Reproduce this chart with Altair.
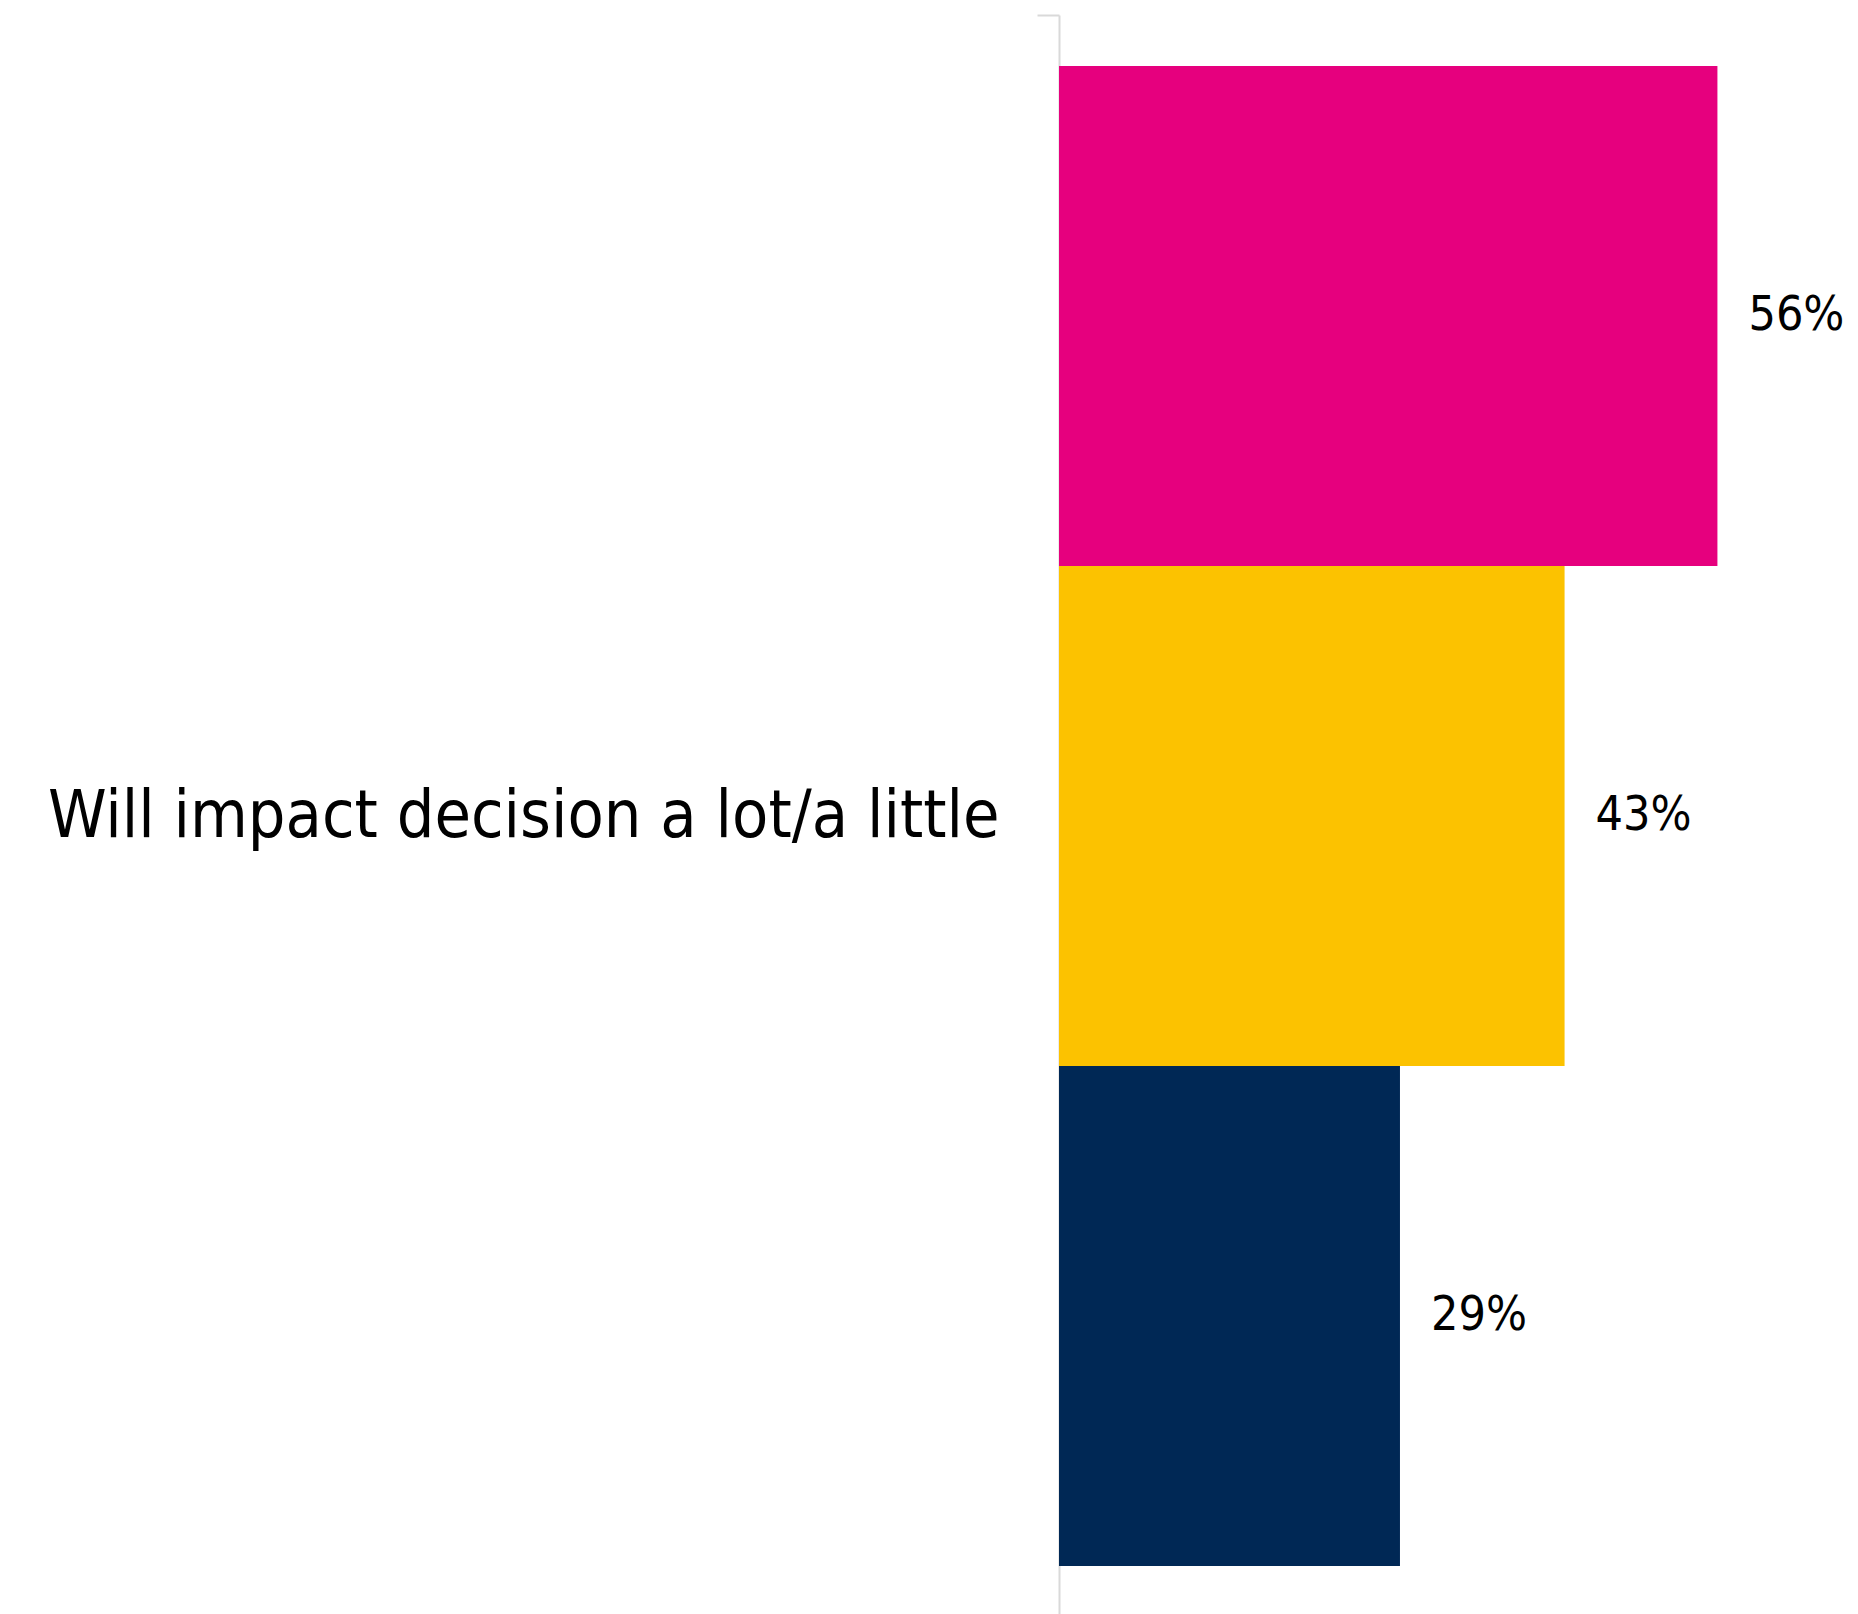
import altair as alt
import pandas as pd

category = "Will impact decision a lot/a little"
series = ["Series A", "Series B", "Series C"]
values = [56, 43, 29]
labels = ["56%", "43%", "29%"]
colors = ["#E6007E", "#FCC200", "#002855"]

df = pd.DataFrame({
    "category": [category] * len(series),
    "series": series,
    "value": values,
    "label": labels,
})

FONT = "Liberation Sans Narrow, DejaVu Sans Condensed, sans-serif"

y_enc = alt.Y(
    "category:N",
    title=None,
    scale=alt.Scale(paddingInner=0, paddingOuter=0),
    axis=alt.Axis(
        grid=False,
        domainColor="#d9d9d9",
        domainWidth=2,
        tickColor="#d9d9d9",
        tickWidth=2,
        tickSize=22,
        tickBand="extent",
        labelFont=FONT,
        labelFontSize=66,
        labelColor="#000000",
        labelPadding=38,
        labelLimit=1200,
    ),
)
yoff = alt.YOffset("series:N", sort=series,
                   scale=alt.Scale(paddingInner=0, paddingOuter=0.102))
x_enc = alt.X("value:Q", title=None,
              scale=alt.Scale(domain=[0, 66], nice=False),
              axis=None)

bars = alt.Chart(df).mark_bar(size=500).encode(
    x=x_enc,
    y=y_enc,
    yOffset=yoff,
    color=alt.Color("series:N", sort=series,
                    scale=alt.Scale(domain=series, range=colors),
                    legend=None),
)

text = alt.Chart(df).mark_text(
    align="left", baseline="middle", dx=31, font=FONT, fontSize=48, color="#000000"
).encode(
    x=x_enc,
    y=y_enc,
    yOffset=yoff,
    text="label:N",
)

chart = alt.layer(bars, text).properties(
    width=776,
    height=1602,
    background="#ffffff",
    autosize=alt.AutoSizeParams(type="none"),
    padding={"left": 1051, "top": 7, "right": 10, "bottom": 0},
).configure_view(strokeWidth=0, stroke="transparent")

chart.save("out.html", embed_options={"renderer": "svg", "actions": False})
